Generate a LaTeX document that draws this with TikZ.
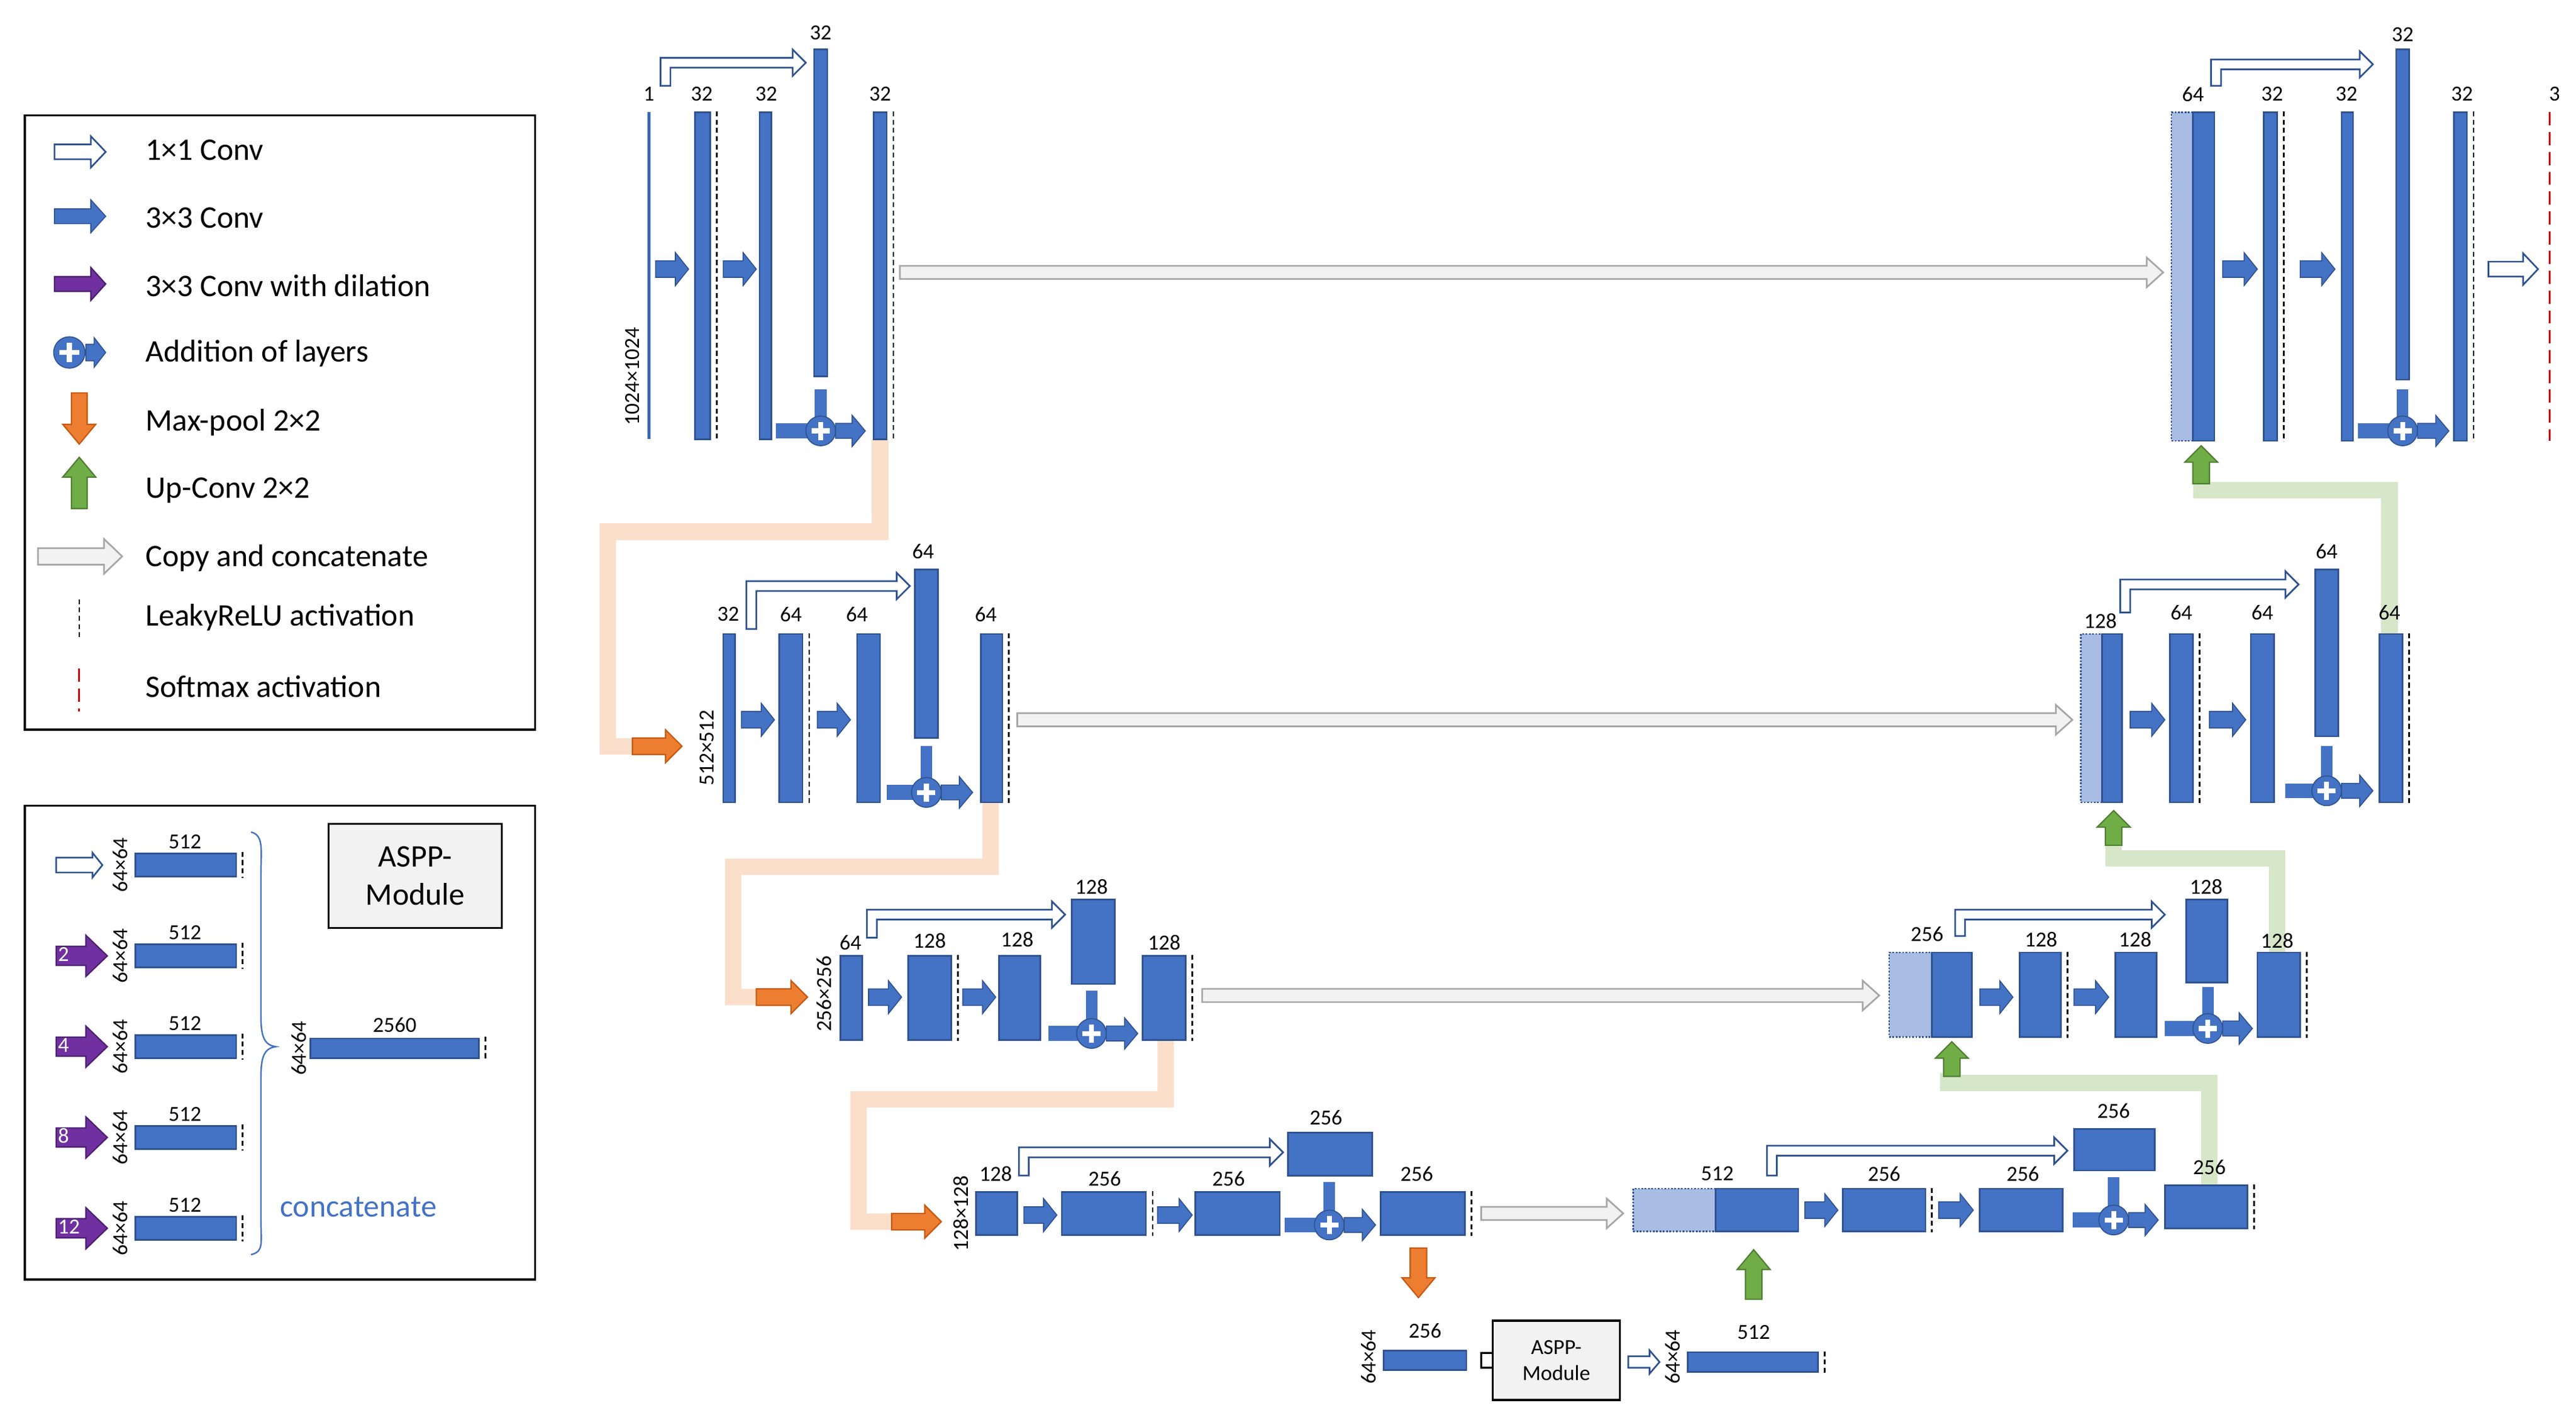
\documentclass[tikz,border=0pt]{standalone}
\usepackage{fontspec}
\setmainfont{Carlito}
\usetikzlibrary{fit}
\definecolor{cblue}{HTML}{4472C4}
\definecolor{bdark}{HTML}{2F528F}
\definecolor{lblue}{HTML}{A9BCE3}
\definecolor{corange}{HTML}{ED7D31}
\definecolor{odark}{HTML}{C55A11}
\definecolor{cgreen}{HTML}{70AD47}
\definecolor{gdark}{HTML}{507E32}
\definecolor{peach}{HTML}{FBDFCB}
\definecolor{lgreen}{HTML}{D6E6C9}
\definecolor{cpurple}{HTML}{7030A0}
\definecolor{pdark}{HTML}{4B1F6F}
\definecolor{cgray}{HTML}{F2F2F2}
\definecolor{gdraw}{HTML}{A6A6A6}
\definecolor{cred}{HTML}{C00000}
\tikzset{
 blk/.style={rectangle,draw=bdark,fill=cblue,line width=1pt,inner sep=0pt},
 lblk/.style={rectangle,draw=bdark,fill=lblue,line width=1pt,densely dotted,inner sep=0pt},
 act/.style={draw=black,line width=1pt,dash pattern=on 3pt off 2pt},
 sact/.style={draw=cred,line width=1.2pt,dash pattern=on 8pt off 4pt},
 conv/.style={fill=cblue,draw=bdark,line width=0.6pt},
 hol/.style={fill=white,draw=bdark,line width=1pt},
 bhol/.style={fill=white,draw=black,line width=1.2pt},
 pool/.style={fill=corange,draw=odark,line width=0.8pt},
 upc/.style={fill=cgreen,draw=gdark,line width=0.8pt},
 copy/.style={fill=cgray,draw=gdraw,line width=1pt},
 dil/.style={fill=cpurple,draw=pdark,line width=0.8pt},
 peachp/.style={draw=peach,line width=10pt},
 greenp/.style={draw=lgreen,line width=10pt},
 lab/.style={font=\fontsize{13}{13}\selectfont,inner sep=0pt},
 leg/.style={font=\fontsize{19}{22}\selectfont,inner sep=0pt,anchor=west},
 addc/.style={circle,fill=cblue,draw=bdark,line width=0.6pt,minimum size=18pt,inner sep=0pt},
}
% style, x, y, angle, length, shaft half, head half, head length
\newcommand\arr[8]{\begin{scope}[shift={(#2,#3)},rotate=#4]
 \path[#1] (0,-#6)--(#5-#8,-#6)--(#5-#8,-#7)--(#5,0)--(#5-#8,#7)--(#5-#8,#6)--(0,#6)--cycle;
 \end{scope}}
% block: name x1 y1 x2 y2
\newcommand\blk[5]{\node[blk,fit={(#2,#3)(#4,#5)}] (#1) {};}
\newcommand\lblk[5]{\node[lblk,fit={(#2,#3)(#4,#5)}] (#1) {};}
\newcommand\act[1]{\draw[act] ([xshift=3.5pt]#1.north east) -- ([xshift=3.5pt]#1.south east);}
% L-shaped 1x1 arrow: x0 ybottom yline xend
\newcommand\lar[4]{\path[hol] (#1-3,#2)--(#1-3,#3-3)--(#4-8,#3-3)--(#4-8,#3-8)--(#4,#3)--(#4-8,#3+8)--(#4-8,#3+3)--(#1+3,#3+3)--(#1+3,#2)--cycle;}
% addition: name cx cy ystubtop xstubleft arrowlength
\newcommand\addn[6]{\fill[cblue] (#2-3.5,#4) rectangle (#2+3.5,#3-8);
 \fill[cblue] (#5,#3-4.5) rectangle (#2-8,#3+4.5);
 \node[addc] (#1) at (#2,#3) {};
 \draw[white,line width=3pt] (#2-5.5,#3)--(#2+5.5,#3) (#2,#3-5.5)--(#2,#3+5.5);
 \arr{conv}{#2+9}{#3}{0}{#6}{4.5}{9.5}{8}}
\newcommand\cv[3]{\arr{conv}{#1}{#2}{0}{#3}{5}{10}{8}}
\begin{document}
\begin{tikzpicture}[x=1pt,y=-1pt]
\useasboundingbox (0,0) rectangle (1560,860);
% ---------- legend 1
\node[draw=black,line width=1.2pt,fit={(15,70)(324,442)},inner sep=0pt] (leg1) {};
\arr{hol}{33}{92}{0}{31}{4.5}{9.5}{9}
\node[leg] at (88,91) {1×1 Conv};
\arr{conv}{33}{131}{0}{31}{4.5}{10}{9}
\node[leg] at (88,132) {3×3 Conv};
\arr{dil}{33}{172}{0}{31}{4.5}{10}{9}
\node[leg] at (88,173) {3×3 Conv with dilation};
\node[addc,minimum size=19pt] (legadd) at (42,213.5) {};
\draw[white,line width=3pt] (36,213.5)--(48,213.5) (42,207.5)--(42,219.5);
\arr{conv}{52}{213.5}{0}{12}{5}{9}{7}
\node[leg] at (88,214) {Addition of layers};
\arr{pool}{48}{238}{-90}{31}{4.7}{10}{12}
\node[leg] at (88,256) {Max-pool 2×2};
\arr{upc}{48}{308}{90}{31}{4.7}{10}{12}
\node[leg] at (88,297) {Up-Conv 2×2};
\arr{copy}{23}{337}{0}{51}{5}{10.5}{11}
\node[leg] at (88,338) {Copy and concatenate};
\draw[act] (48,363)--(48,386);
\node[leg] at (88,374) {LeakyReLU activation};
\draw[sact] (48,405)--(48,431);
\node[leg] at (88,416) {Softmax activation};
% ---------- legend 2
\node[draw=black,line width=1.2pt,fit={(15,488)(324,775)},inner sep=0pt] (leg2) {};
\foreach \y/\n [count=\i] in {524/,579/2,634/4,689/8,744/12}{
 \blk{a\i}{82}{\y-7}{143}{\y+7}
 \draw[act] (147,\y-8)--(147,\y+8);
 \node[lab] at (112,\y-14) {512};
 \node[lab,rotate=90] at (73,\y) {64×64};
}
\arr{hol}{34}{524}{0}{28}{4.5}{7.5}{6}
\foreach \y/\n in {579/2,634/4,689/8,744/12}{
 \arr{dil}{34}{\y}{0}{31}{5.8}{12.5}{13}
 \node[lab,text=white,anchor=west] at (35,\y-1) {\n};
}
\draw[cblue,line width=0.9pt] (152,504) .. controls (160,506) and (158,515) .. (158,530) -- (158,615) .. controls (158,628) and (160,633) .. (167,634) .. controls (160,635) and (158,640) .. (158,653) -- (158,738) .. controls (158,753) and (160,758) .. (152,760);
\node[lab,rotate=90] at (181,635) {64×64};
\blk{a6}{188}{629}{290}{641}
\draw[act] (294,628)--(294,642);
\node[lab] at (239,621) {2560};
\node[draw=black,fill=cgray,line width=1.2pt,fit={(199,499)(304,562)},inner sep=0pt] (asppleg) {};
\node[font=\fontsize{19}{23}\selectfont,align=center] at (asppleg) {ASPP-\\Module};
\node[font=\fontsize{19}{22}\selectfont,text=cblue,inner sep=0pt] at (217,731) {concatenate};
% ---------- paths (behind)
\draw[peachp] (533,266)--(533,322)--(368,322)--(368,452)--(384,452);
\draw[peachp] (600,486)--(600,525)--(444,525)--(444,604)--(458,604);
\draw[peachp] (706,630)--(706,666)--(520,666)--(520,740)--(540,740);
\draw[greenp] (1338,718)--(1338,656)--(1180,656)--(1180,650);
\draw[greenp] (1379,577)--(1379,520)--(1280,520)--(1280,512);
\draw[greenp] (1447,384)--(1447,297)--(1333,297)--(1333,292);
% ---------- level 1 encoder
\draw[cblue!90!black,line width=2pt] (393,68)--(393,266);
\node[lab] at (393,57) {1};
\node[lab,rotate=90] at (383,228) {1024×1024};
\cv{397}{163}{20}
\blk{e11}{421}{68}{430}{266}\act{e11}
\node[lab] at (425,57) {32};
\cv{438}{163}{20}
\blk{e12}{460}{68}{467}{266}
\node[lab] at (464,57) {32};
\blk{e1t}{493}{30}{501}{228}
\node[lab] at (497,20) {32};
\lar{403}{52}{38}{488}
\addn{e1a}{497}{261}{236}{470}{18}
\blk{e13}{529}{68}{537}{266}\act{e13}
\node[lab] at (533,57) {32};
\arr{copy}{545}{165}{0}{765}{4}{9}{10}
\arr{pool}{383}{452}{0}{30}{5}{10}{10}
% ---------- level 2 encoder
\blk{e21}{438}{384}{445}{486}
\node[lab] at (441,372) {32};
\node[lab,rotate=90] at (428,453) {512×512};
\cv{449}{436}{20}
\blk{e22}{472}{384}{486}{486}\act{e22}
\node[lab] at (479,372) {64};
\cv{495}{436}{20}
\blk{e23}{519}{384}{533}{486}
\node[lab] at (519,372) {64};
\blk{e2t}{554}{345}{568}{447}
\node[lab] at (559,334) {64};
\lar{455}{381}{355}{551}
\addn{e2a}{561}{480}{452}{537}{19}
\blk{e24}{594}{384}{607}{486}\act{e24}
\node[lab] at (597,372) {64};
\arr{copy}{616}{436}{0}{639}{4}{9}{10}
\arr{pool}{458}{604}{0}{31}{5}{10}{10}
% ---------- level 3 encoder
\blk{e31}{509}{579}{522}{630}
\node[lab] at (515,571) {64};
\node[lab,rotate=90] at (499,602) {256×256};
\cv{526}{604}{20}
\blk{e32}{550}{579}{576}{630}\act{e32}
\node[lab] at (563,570) {128};
\cv{583}{604}{20}
\blk{e33}{605}{579}{630}{630}
\node[lab] at (616,569) {128};
\blk{e3t}{649}{545}{675}{596}
\node[lab] at (661,537) {128};
\lar{528}{568}{554}{645}
\addn{e3a}{661}{626}{600}{635}{19}
\blk{e34}{692}{579}{718}{630}\act{e34}
\node[lab] at (705,571) {128};
\arr{copy}{728}{603}{0}{410}{4}{9}{10}
\arr{pool}{540}{740}{0}{30}{5}{10}{10}
% ---------- level 4 encoder
\blk{e41}{591}{722}{616}{748}
\node[lab] at (603,711) {128};
\node[lab,rotate=90] at (582,735) {128×128};
\cv{620}{736}{20}
\blk{e42}{643}{722}{694}{748}\act{e42}
\node[lab] at (669,714) {256};
\cv{701}{736}{21}
\blk{e43}{724}{722}{775}{748}
\node[lab] at (744,714) {256};
\blk{e4t}{780}{686}{831}{712}
\node[lab] at (803,677) {256};
\lar{620}{712}{698}{777}
\addn{e4a}{805}{742}{716}{778}{19}
\blk{e44}{836}{722}{887}{748}\act{e44}
\node[lab] at (858,711) {256};
\arr{copy}{897}{735}{0}{86}{4}{9}{10}
\arr{pool}{859}{756}{-90}{30}{5}{10}{12}
% ---------- bottleneck
\blk{b1}{838}{818}{888}{830}
\node[lab] at (863,806) {256};
\node[lab,rotate=90] at (829,822) {64×64};
\arr{bhol}{897}{824}{0}{21}{4.5}{9}{7}
\node[draw=black,fill=cgray,line width=1.2pt,fit={(904,800)(981,848)},inner sep=0pt] (aspp) {};
\node[font=\fontsize{13}{16}\selectfont,align=center] at (aspp) {ASPP-\\Module};
\arr{hol}{986}{825}{0}{19}{3.5}{7}{6}
\node[lab,rotate=90] at (1013,822) {64×64};
\blk{b2}{1022}{819}{1101}{831}\act{b2}
\node[lab] at (1062,807) {512};
\arr{upc}{1062}{787}{90}{30}{5}{10}{12}
% ---------- level 4 decoder
\lblk{d41l}{989}{720}{1039}{746}
\blk{d41}{1039}{720}{1089}{746}
\node[lab] at (1040,711) {512};
\cv{1093}{733}{20}
\blk{d42}{1116}{720}{1166}{746}\act{d42}
\node[lab] at (1141,711) {256};
\cv{1174}{733}{21}
\blk{d43}{1199}{720}{1249}{746}
\node[lab] at (1225,711) {256};
\blk{d4t}{1256}{684}{1305}{709}
\node[lab] at (1280,673) {256};
\lar{1073}{712}{697}{1252}
\addn{d4a}{1280}{739}{713}{1255}{18}
\blk{d44}{1311}{718}{1361}{744}\act{d44}
\node[lab] at (1338,707) {256};
\arr{upc}{1182}{652}{90}{21}{5}{10}{10}
% ---------- level 3 decoder
\lblk{d31l}{1144}{577}{1170}{628}
\blk{d31}{1170}{577}{1194}{628}
\node[lab] at (1167,566) {256};
\cv{1199}{604}{20}
\blk{d32}{1223}{577}{1248}{628}\act{d32}
\node[lab] at (1236,569) {128};
\cv{1256}{604}{21}
\blk{d33}{1281}{577}{1306}{628}
\node[lab] at (1293,569) {128};
\blk{d3t}{1324}{545}{1349}{595}
\node[lab] at (1336,537) {128};
\lar{1187}{567}{554}{1311}
\addn{d3a}{1337}{623}{598}{1311}{18}
\blk{d34}{1367}{577}{1393}{628}\act{d34}
\node[lab] at (1379,570) {128};
\arr{upc}{1280}{512}{90}{21}{5}{10}{10}
% ---------- level 2 decoder
\lblk{d21l}{1260}{384}{1273}{486}
\blk{d21}{1273}{384}{1285}{486}
\node[lab] at (1272,376) {128};
\cv{1290}{436}{21}
\blk{d22}{1314}{384}{1328}{486}\act{d22}
\node[lab] at (1321,371) {64};
\cv{1338}{436}{22}
\blk{d23}{1363}{384}{1377}{486}
\node[lab] at (1370,371) {64};
\blk{d2t}{1402}{345}{1416}{446}
\node[lab] at (1409,334) {64};
\lar{1287}{371}{354}{1392}
\addn{d2a}{1409}{479}{452}{1384}{19}
\blk{d24}{1441}{384}{1455}{486}\act{d24}
\node[lab] at (1447,371) {64};
\arr{upc}{1333}{293}{90}{23}{5}{10}{10}
% ---------- level 1 decoder
\lblk{d11l}{1315}{68}{1328}{267}
\blk{d11}{1328}{68}{1341}{267}
\node[lab] at (1328,57) {64};
\arr{copy}{545}{165}{0}{0.1}{0}{0}{0}
\cv{1346}{163}{21}
\blk{d12}{1371}{68}{1379}{267}\act{d12}
\node[lab] at (1376,57) {32};
\cv{1393}{163}{21}
\blk{d13}{1418}{68}{1425}{267}
\node[lab] at (1421,57) {32};
\blk{d1t}{1451}{30}{1459}{230}
\node[lab] at (1455,21) {32};
\lar{1342}{52}{39}{1437}
\addn{d1a}{1455}{261}{236}{1428}{19}
\blk{d14}{1486}{68}{1494}{267}\act{d14}
\node[lab] at (1491,57) {32};
\arr{hol}{1507}{163}{0}{30}{4.5}{9.5}{9}
\draw[sact] (1544,68)--(1544,267);
\node[lab] at (1547,57) {3};
\end{tikzpicture}
\end{document}
